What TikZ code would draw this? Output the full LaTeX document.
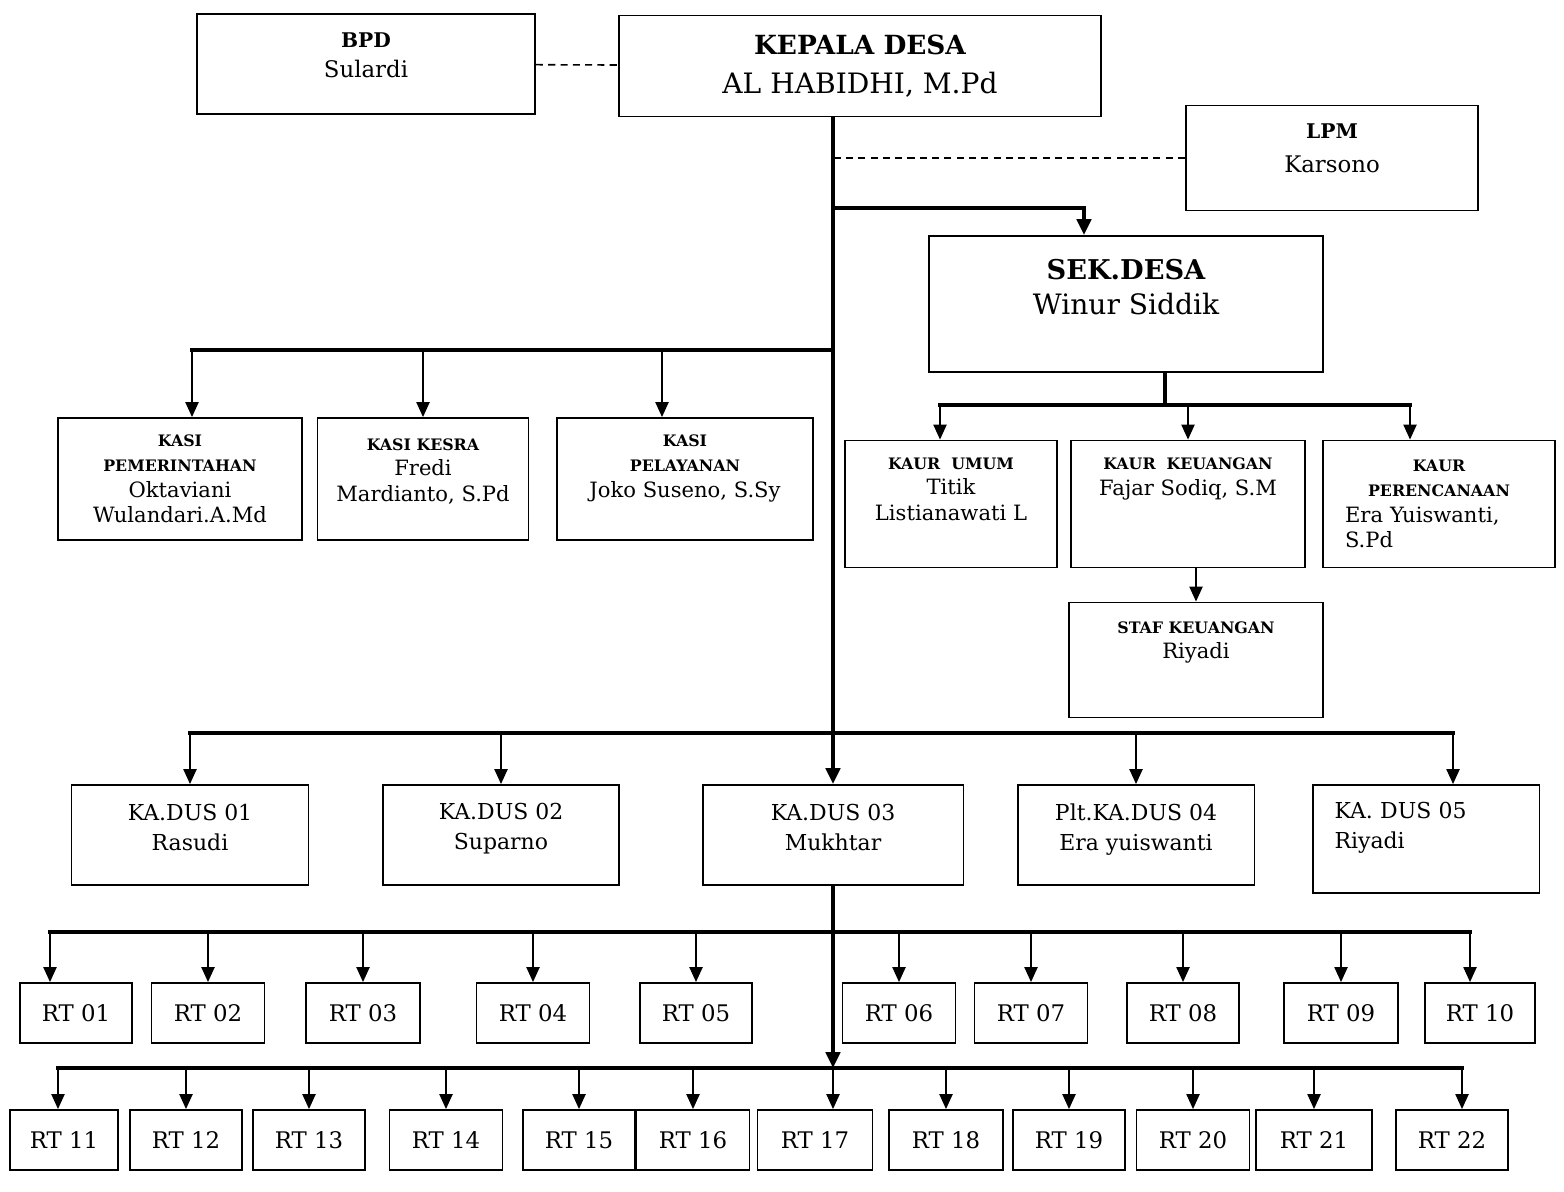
\documentclass[tikz,border=0pt]{standalone}
\usepackage{fontspec}
\setmainfont{DejaVu Serif}
\usetikzlibrary{arrows.meta}

\newcommand{\judul}[1]{{\fontsize{9}{12}\selectfont\bfseries #1}}
\newcommand{\naik}[1]{\rule[-#1]{0pt}{#1}}

\begin{document}
\begin{tikzpicture}[x=0.02cm,y=-0.02cm,
  kotak/.style 2 args={draw,line width=1.1pt,align=center,inner sep=2pt,
    minimum width=#1,minimum height=#2},
  nama/.style={font=\fontsize{12}{14.5}\selectfont},
  dus/.style={font=\fontsize{12.5}{17}\selectfont},
  rt/.style={kotak={#1}{1.2cm},font=\fontsize{13}{16}\selectfont},
  jalur/.style={line width=2.4pt,line cap=rect},
  panah/.style={line width=0.9pt,-{Triangle[length=8.5pt,width=7.5pt]}},
  panahtebal/.style={line width=2.4pt,-{Triangle[length=9pt,width=8pt]}},
  putus/.style={line width=0.9pt,dash pattern=on 4pt off 3pt}]

\useasboundingbox (0,0) rectangle (1564,1191);

% pimpinan
\node[kotak={6.76cm}{2cm},font=\fontsize{13}{17}\selectfont] (bpd) at (366,64) {{\fontsize{11.5}{14}\selectfont\bfseries BPD}\\Sulardi\naik{0.36cm}};
\node[kotak={9.64cm}{2.02cm},font=\fontsize{16}{22.6}\selectfont] (kades) at (860,66) {{\fontsize{15}{18}\selectfont\bfseries KEPALA DESA}\\AL HABIDHI, M.Pd};
\node[kotak={5.84cm}{2.1cm},font=\fontsize{13}{19}\selectfont] (lpm) at (1332,158) {{\fontsize{11.5}{14}\selectfont\bfseries LPM}\\Karsono\naik{0.4cm}};
\node[kotak={7.88cm}{2.72cm},font=\fontsize{16}{19.5}\selectfont] (sekdes) at (1126,304) {{\fontsize{15.5}{18}\selectfont\bfseries SEK.DESA}\\Winur Siddik\naik{0.68cm}};

% kasi
\node[kotak={4.88cm}{2.44cm},nama] (kasi1) at (180,479) {\judul{KASI}\\\judul{PEMERINTAHAN}\\Oktaviani\\Wulandari.A.Md};
\node[kotak={4.22cm}{2.44cm},nama] (kasi2) at (423,479) {\judul{KASI KESRA}\\Fredi\\Mardianto, S.Pd\naik{0.36cm}};
\node[kotak={5.12cm}{2.44cm},nama] (kasi3) at (685,479) {\judul{KASI}\\\judul{PELAYANAN}\\Joko Suseno, S.Sy\naik{0.52cm}};

% kaur
\node[kotak={4.24cm}{2.54cm},nama] (kaur1) at (951,504) {\judul{KAUR\ \ UMUM}\\Titik\\Listianawati L\naik{0.6cm}};
\node[kotak={4.68cm}{2.54cm},nama] (kaur2) at (1188,504) {\judul{KAUR\ \ KEUANGAN}\\Fajar Sodiq, S.M\naik{1.1cm}};
\node[kotak={4.64cm}{2.54cm},nama,align=left,text width=3.76cm,inner xsep=0.44cm] (kaur3) at (1439,504) {\makebox[\linewidth]{\judul{KAUR}}\\\makebox[\linewidth]{\judul{PERENCANAAN}}\\Era Yuiswanti,\\S.Pd};
\node[kotak={5.08cm}{2.3cm},nama] (staf) at (1196,660) {\judul{STAF KEUANGAN}\\Riyadi\naik{0.8cm}};

% kadus
\node[kotak={4.74cm}{2cm},dus] (kadus1) at (190,835) {KA.DUS 01\\Rasudi\naik{0.32cm}};
\node[kotak={4.72cm}{2cm},dus] (kadus2) at (501,835) {KA.DUS 02\\Suparno\naik{0.36cm}};
\node[kotak={5.22cm}{2cm},dus] (kadus3) at (833,835) {KA.DUS 03\\Mukhtar\naik{0.32cm}};
\node[kotak={4.74cm}{2cm},dus] (kadus4) at (1136,835) {Plt.KA.DUS 04\\Era yuiswanti\naik{0.32cm}};
\node[kotak={4.54cm}{2.16cm},dus,align=left,text width=3.66cm,inner xsep=0.44cm] (kadus5) at (1426,839) {KA. DUS 05\\Riyadi\naik{0.56cm}};

% rt baris 1
\node[rt=2.24cm] (rt01) at (76,1013) {RT 01};
\node[rt=2.26cm] (rt02) at (208,1013) {RT 02};
\node[rt=2.28cm] (rt03) at (363,1013) {RT 03};
\node[rt=2.26cm] (rt04) at (533,1013) {RT 04};
\node[rt=2.24cm] (rt05) at (696,1013) {RT 05};
\node[rt=2.26cm] (rt06) at (899,1013) {RT 06};
\node[rt=2.26cm] (rt07) at (1031,1013) {RT 07};
\node[rt=2.24cm] (rt08) at (1183,1013) {RT 08};
\node[rt=2.28cm] (rt09) at (1341,1013) {RT 09};
\node[rt=2.2cm] (rt10) at (1480,1013) {RT 10};

% rt baris 2
\node[rt=2.16cm] (rt11) at (64,1140) {RT 11};
\node[rt=2.24cm] (rt12) at (186,1140) {RT 12};
\node[rt=2.24cm] (rt13) at (309,1140) {RT 13};
\node[rt=2.26cm] (rt14) at (446,1140) {RT 14};
\node[rt=2.24cm] (rt15) at (579,1140) {RT 15};
\node[rt=2.26cm] (rt16) at (693,1140) {RT 16};
\node[rt=2.3cm] (rt17) at (815,1140) {RT 17};
\node[rt=2.28cm] (rt18) at (946,1140) {RT 18};
\node[rt=2.24cm] (rt19) at (1069,1140) {RT 19};
\node[rt=2.26cm] (rt20) at (1193,1140) {RT 20};
\node[rt=2.32cm] (rt21) at (1314,1140) {RT 21};
\node[rt=2.24cm] (rt22) at (1452,1140) {RT 22};

% garis utama
\coordinate (tr) at (833,117);
\draw[putus] (bpd) -- (kades);
\draw[panahtebal] (kades.south -| tr) -- (kadus3.north);
\draw[putus] (lpm.west) -- (lpm.west -| tr);
\coordinate (sk) at (1084,208);
\draw[panahtebal] (tr |- sk) -- (sk) -- (sk |- sekdes.north);

% ke kasi
\coordinate (kb) at (192,350);
\coordinate (k3) at (662,350);
\draw[jalur] (tr |- kb) -- (kb);
\draw[panah] (kb) -- (kb |- kasi1.north);
\draw[panah] (kasi2.north |- kb) -- (kasi2.north);
\draw[panah] (k3) -- (k3 |- kasi3.north);

% ke kaur
\coordinate (sb) at (1165,405);
\coordinate (kl) at (940,405);
\coordinate (kr) at (1410,405);
\draw[jalur] (sekdes.south -| sb) -- (sb);
\draw[jalur] (kl) -- (kr);
\draw[panah] (kl) -- (kl |- kaur1.north);
\draw[panah] (kaur2.north |- kl) -- (kaur2.north);
\draw[panah] (kr) -- (kr |- kaur3.north);
\draw[panah] (kaur2.south -| staf.north) -- (staf.north);

% ke kadus
\coordinate (dl) at (190,733);
\coordinate (dr) at (1453,733);
\draw[jalur] (dl) -- (dr);
\draw[panah] (dl) -- (kadus1.north);
\draw[panah] (kadus2.north |- dl) -- (kadus2.north);
\draw[panah] (kadus4.north |- dl) -- (kadus4.north);
\draw[panah] (dr) -- (dr |- kadus5.north);

% ke rt baris 1
\coordinate (al) at (50,932);
\coordinate (ar) at (1470,932);
\draw[jalur] (al) -- (ar);
\draw[panah] (al) -- (al |- rt01.north);
\draw[panah] (rt02.north |- al) -- (rt02.north);
\draw[panah] (rt03.north |- al) -- (rt03.north);
\draw[panah] (rt04.north |- al) -- (rt04.north);
\draw[panah] (rt05.north |- al) -- (rt05.north);
\draw[panah] (rt06.north |- al) -- (rt06.north);
\draw[panah] (rt07.north |- al) -- (rt07.north);
\draw[panah] (rt08.north |- al) -- (rt08.north);
\draw[panah] (rt09.north |- al) -- (rt09.north);
\draw[panah] (ar) -- (ar |- rt10.north);

% ke rt baris 2
\coordinate (bl) at (58,1068);
\coordinate (br) at (1462,1068);
\draw[jalur] (bl) -- (br);
\draw[panahtebal] (kadus3.south) -- (tr |- bl);
\draw[panah] (tr |- bl) -- (rt17.north -| tr);
\draw[panah] (bl) -- (bl |- rt11.north);
\draw[panah] (rt12.north |- bl) -- (rt12.north);
\draw[panah] (rt13.north |- bl) -- (rt13.north);
\draw[panah] (rt14.north |- bl) -- (rt14.north);
\draw[panah] (rt15.north |- bl) -- (rt15.north);
\draw[panah] (rt16.north |- bl) -- (rt16.north);
\draw[panah] (rt18.north |- bl) -- (rt18.north);
\draw[panah] (rt19.north |- bl) -- (rt19.north);
\draw[panah] (rt20.north |- bl) -- (rt20.north);
\draw[panah] (rt21.north |- bl) -- (rt21.north);
\draw[panah] (br) -- (br |- rt22.north);

\end{tikzpicture}
\end{document}
